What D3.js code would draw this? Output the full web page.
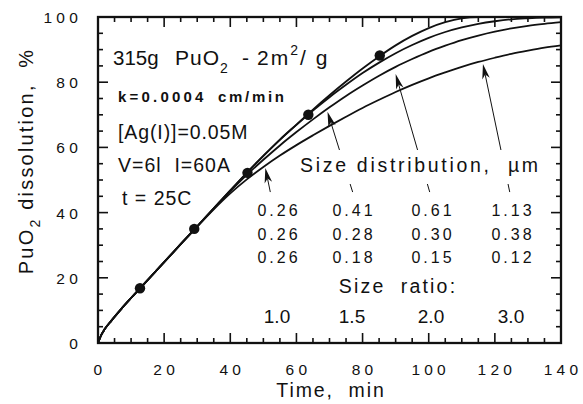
<!DOCTYPE html>
<html>
<head>
<meta charset="utf-8">
<script src="https://cdn.jsdelivr.net/npm/d3@7"></script>
<style>
  html, body { margin: 0; padding: 0; background: #fff; }
  svg { display: block; }
  text { font-family: "Liberation Sans", Arial, Helvetica, sans-serif; fill: #111; }
</style>
</head>
<body>
<svg id="chart" width="583" height="404"></svg>
<script>
// Dissolution time grid (min)
const time = [0, 1, 2, 4, 7, 10, 15, 20, 25, 30, 35, 40, 45, 50, 55, 60, 65, 70, 75, 80, 85, 90, 95, 100, 105, 110, 115, 120, 125, 130, 135, 140];

// PuO2 dissolved (%) for each particle size ratio
const ratio10 = [0, 2.5, 4.2, 6.8, 10.4, 13.8, 19.3, 24.8, 30.3, 35.8, 41.3, 46.8, 52.2, 57.4, 62.4, 67.0, 71.6, 76.0, 80.2, 84.2, 87.9, 91.3, 94.2, 96.6, 98.4, 99.6, 100, 100, 100, 100, 100, 100];
const ratio15 = [0, 2.5, 4.2, 6.8, 10.4, 13.8, 19.3, 24.8, 30.3, 35.8, 41.3, 46.8, 52.2, 57.4, 62.3, 66.9, 71.3, 75.4, 79.2, 82.8, 86.0, 88.9, 91.4, 93.6, 95.4, 96.8, 97.9, 98.7, 99.3, 99.6, 99.8, 99.9];
const ratio20 = [0, 2.5, 4.2, 6.8, 10.4, 13.8, 19.3, 24.8, 30.3, 35.8, 41.3, 46.6, 51.6, 56.2, 60.6, 64.7, 68.6, 72.3, 75.8, 79.0, 82.0, 84.7, 87.1, 89.3, 91.2, 92.9, 94.3, 95.5, 96.5, 97.3, 97.9, 98.4];
const ratio30 = [0, 2.5, 4.2, 6.8, 10.4, 13.8, 19.3, 24.8, 30.3, 35.7, 41.0, 45.9, 50.2, 54.0, 57.5, 60.7, 63.7, 66.6, 69.4, 72.1, 74.6, 77.0, 79.2, 81.2, 83.0, 84.7, 86.2, 87.5, 88.7, 89.7, 90.6, 91.3];
const seriesValues = [ratio10, ratio15, ratio20, ratio30];

// Measured points
const pointTime = [12.7, 29.1, 45.2, 63.6, 85.2];
const pointValue = [16.8, 35.0, 52.2, 70.0, 88.2];

// Axis ticks
const xTicks = [0, 20, 40, 60, 80, 100, 120, 140];
const yTicks = [0, 20, 40, 60, 80, 100];

// Size distribution table (columns per size ratio)
const sizeRatios = ["1.0", "1.5", "2.0", "3.0"];
const sizeRow1 = ["0.26", "0.41", "0.61", "1.13"];
const sizeRow2 = ["0.26", "0.28", "0.30", "0.38"];
const sizeRow3 = ["0.26", "0.18", "0.15", "0.12"];

// Arrows from the table columns to the curves
const arrowTailTime = [52.1, 77.0, 100.3, 124.5];
const arrowTailValue = [46.3, 46.3, 46.3, 46.3];
const arrowTipTime = [50.6, 69.4, 90.0, 116.4];
const arrowTipValue = [53.7, 70.9, 82.5, 85.6];

const svg = d3.select("#chart");
const L = 98, R = 561, T = 17, B = 343;
const x = d3.scaleLinear().domain([0, 140]).range([L, R]);
const y = d3.scaleLinear().domain([0, 100]).range([B, T]);

// Ticks: minor every 5, major every 20, all pointing inward
const minorX = d3.range(0, 141, 5), minorY = d3.range(0, 101, 5);
const tickLen = v => (v % 20 === 0 ? 10 : 5);

const axisG = svg.append("g").attr("stroke", "#111").attr("stroke-width", 1.6);
minorX.forEach(v => {
  if (v === 0 || v === 140) return;
  axisG.append("line").attr("x1", x(v)).attr("x2", x(v)).attr("y1", B).attr("y2", B - tickLen(v));
  axisG.append("line").attr("x1", x(v)).attr("x2", x(v)).attr("y1", T).attr("y2", T + tickLen(v));
});
minorY.forEach(v => {
  if (v === 0 || v === 100) return;
  axisG.append("line").attr("x1", L).attr("x2", L + tickLen(v)).attr("y1", y(v)).attr("y2", y(v));
  axisG.append("line").attr("x1", R).attr("x2", R - tickLen(v)).attr("y1", y(v)).attr("y2", y(v));
});
svg.append("rect").attr("x", L).attr("y", T).attr("width", R - L).attr("height", B - T)
  .attr("fill", "none").attr("stroke", "#111").attr("stroke-width", 2.3);

// Tick labels
svg.append("g").selectAll("text").data(xTicks).join("text")
  .attr("x", d => x(d) + 2).attr("y", 374.5)
  .attr("text-anchor", "middle").attr("font-size", 15.5).attr("letter-spacing", 4.2)
  .text(d => d);
svg.append("g").selectAll("text").data(yTicks).join("text")
  .attr("x", 82).attr("y", d => y(d) + 6)
  .attr("text-anchor", "end").attr("font-size", 15.5).attr("letter-spacing", 4.2)
  .text(d => d);

// Axis titles
svg.append("text").attr("x", 331).attr("y", 397).attr("text-anchor", "middle")
  .attr("font-size", 19.5).attr("letter-spacing", 1.9).attr("xml:space", "preserve")
  .text("Time,  min");
const yt = svg.append("text").attr("transform", "translate(33,161) rotate(-90)")
  .attr("text-anchor", "middle").attr("font-size", 20).attr("letter-spacing", 2.2)
  .attr("xml:space", "preserve");
yt.append("tspan").text("PuO");
yt.append("tspan").attr("font-size", 14).attr("dy", 7).text("2");
yt.append("tspan").attr("dy", -7).text(" dissolution,  %");

// Arrows
const arrowG = svg.append("g");
arrowTipTime.forEach((tt, i) => {
  const x1 = x(arrowTailTime[i]), y1 = y(arrowTailValue[i]);
  const x2 = x(tt), y2 = y(arrowTipValue[i]);
  const ang = Math.atan2(y2 - y1, x2 - x1);
  const hl = 15, hw = 3.8;
  const bx = x2 - hl * Math.cos(ang), by = y2 - hl * Math.sin(ang);
  const nx = -Math.sin(ang), ny = Math.cos(ang);
  const mx = x2 - hl * 0.72 * Math.cos(ang), my = y2 - hl * 0.72 * Math.sin(ang);
  arrowG.append("line").attr("x1", x1).attr("y1", y1).attr("x2", mx).attr("y2", my)
    .attr("stroke", "#111").attr("stroke-width", 1);
  arrowG.append("path")
    .attr("d", `M${x2},${y2} L${bx + nx * hw},${by + ny * hw} L${mx},${my} L${bx - nx * hw},${by - ny * hw} Z`)
    .attr("fill", "#111");
});

// Caption block over the arrows
svg.append("rect").attr("x", 296).attr("y", 150).attr("width", 248).attr("height", 34).attr("fill", "#fff");
svg.append("text").attr("x", 300).attr("y", 172).attr("font-size", 19.5).attr("letter-spacing", 2.7)
  .attr("xml:space", "preserve").text("Size distribution,  \u00b5m");

const colX = [277, 352, 431, 511];
[sizeRow1, sizeRow2, sizeRow3].forEach((row, r) => {
  svg.append("g").selectAll("text").data(row).join("text")
    .attr("x", (d, i) => colX[i] + 2).attr("y", 216 + r * 23.5)
    .attr("text-anchor", "middle").attr("font-size", 16).attr("letter-spacing", 3)
    .text(d => d);
});
svg.append("text").attr("x", 398).attr("y", 293).attr("text-anchor", "middle")
  .attr("font-size", 19.5).attr("letter-spacing", 2.2).attr("xml:space", "preserve").text("Size  ratio:");
svg.append("g").selectAll("text").data(sizeRatios).join("text")
  .attr("x", (d, i) => colX[i]).attr("y", 323)
  .attr("text-anchor", "middle").attr("font-size", 19)
  .text(d => d);

// Experimental conditions
svg.append("text").attr("x", 113).attr("y", 65).attr("font-size", 20.5).text("315g");
const t1 = svg.append("text").attr("x", 175).attr("y", 65).attr("font-size", 21).attr("letter-spacing", 1)
  .attr("xml:space", "preserve");
t1.append("tspan").text("PuO");
t1.append("tspan").attr("font-size", 14).attr("dy", 8).text("2");
svg.append("text").attr("x", 242).attr("y", 65).attr("font-size", 21).text("-");
const t2 = svg.append("text").attr("x", 257).attr("y", 65).attr("font-size", 21)
  .attr("letter-spacing", 2).attr("xml:space", "preserve");
t2.append("tspan").text("2m");
t2.append("tspan").attr("font-size", 14).attr("dy", -10).attr("letter-spacing", 0).text("2");
t2.append("tspan").attr("dy", 10).attr("dx", 2).text("/ g");
svg.append("text").attr("x", 118).attr("y", 102).attr("font-size", 15).attr("font-weight", "bold")
  .attr("letter-spacing", 3.2).text("k=0.0004");
svg.append("text").attr("x", 218).attr("y", 102).attr("font-size", 15).attr("font-weight", "bold")
  .attr("letter-spacing", 2.7).text("cm/min");
svg.append("text").attr("x", 118).attr("y", 139).attr("font-size", 19.5).attr("letter-spacing", 0.9).text("[Ag(I)]=0.05M");
svg.append("text").attr("x", 118).attr("y", 172).attr("font-size", 19.5).attr("letter-spacing", 1)
  .attr("xml:space", "preserve").text("V=6l  I=60A");
svg.append("text").attr("x", 122).attr("y", 205).attr("font-size", 19.5).attr("letter-spacing", 1)
  .attr("xml:space", "preserve").text("t = 25C");

// Dissolution curves
const line = d3.line().x((d, i) => x(time[i])).y(d => y(d)).curve(d3.curveMonotoneX);
svg.append("g").selectAll("path").data(seriesValues).join("path")
  .attr("d", line).attr("fill", "none").attr("stroke", "#111").attr("stroke-width", 1.8);

// Measured points
svg.append("g").selectAll("circle").data(pointTime).join("circle")
  .attr("cx", d => x(d)).attr("cy", (d, i) => y(pointValue[i])).attr("r", 5.2).attr("fill", "#111");
</script>
</body>
</html>
